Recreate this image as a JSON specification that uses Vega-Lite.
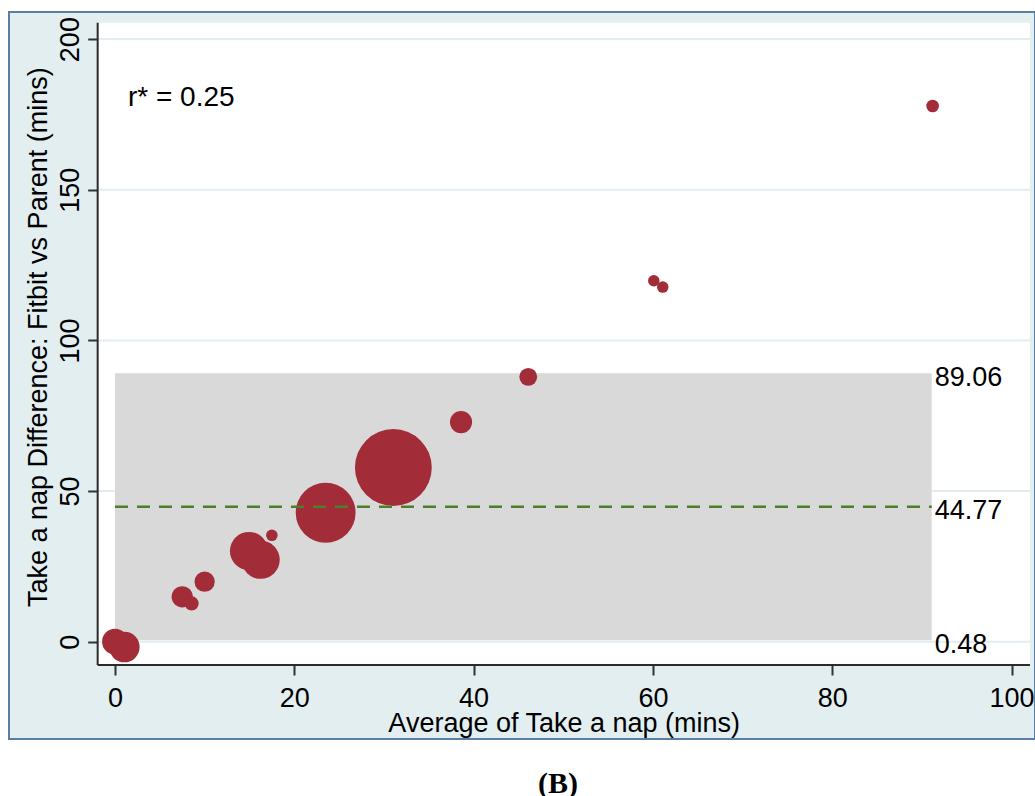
{
  "$schema": "https://vega.github.io/schema/vega-lite/v6.json",
  "width": 1026,
  "height": 727,
  "autosize": {"type": "none"},
  "padding": {"left": 9, "top": 12, "right": 0, "bottom": 57},
  "background": "#ffffff",
  "config": {
    "view": {"fill": "#e2eef0", "stroke": "#5b7fa4", "strokeWidth": 2},
    "axis": {
      "labelFont": "Liberation Sans", "titleFont": "Liberation Sans",
      "labelFontSize": 27, "titleFontSize": 27,
      "labelColor": "#000000", "titleColor": "#000000", "titleFontWeight": "normal",
      "domain": false, "grid": false, "tickColor": "#333333", "tickWidth": 2, "tickSize": 10,
      "labelFlush": false, "zindex": 1
    }
  },
  "title": {"text": "(B)", "orient": "bottom", "frame": "group", "anchor": "middle", "dx": 36, "offset": 54, "baseline": "alphabetic", "font": "Liberation Serif", "fontSize": 30, "fontWeight": "bold", "color": "#000000"},
  "datasets": {
    "points": [
      {"avg": 0, "diff": 0, "n": 5},
      {"avg": 1.05, "diff": -1.8, "n": 7},
      {"avg": 7.5, "diff": 14.9, "n": 3.4},
      {"avg": 8.55, "diff": 12.7, "n": 1.5},
      {"avg": 10.0, "diff": 19.9, "n": 3.1},
      {"avg": 14.95, "diff": 30.1, "n": 11},
      {"avg": 16.25, "diff": 27.2, "n": 11},
      {"avg": 17.5, "diff": 35.3, "n": 1},
      {"avg": 23.5, "diff": 42.8, "n": 27},
      {"avg": 31.05, "diff": 57.8, "n": 44.5},
      {"avg": 38.6, "diff": 72.9, "n": 3.7},
      {"avg": 46.1, "diff": 87.9, "n": 2.4},
      {"avg": 60.1, "diff": 119.8, "n": 1},
      {"avg": 61.1, "diff": 117.7, "n": 1},
      {"avg": 91.2, "diff": 177.8, "n": 1.2}
    ],
    "band": [{"lo": 0.48, "mean": 44.77, "hi": 89.06, "xmin": 0, "xmax": 91.1}],
    "limits": [{"v": 89.06, "xmax": 91}, {"v": 44.77, "xmax": 91}, {"v": 0.48, "xmax": 91}],
    "grid": [{"g": 0}, {"g": 50}, {"g": 100}, {"g": 150}, {"g": 200}],
    "note": [{"label": "r* = 0.25", "x": 1.45, "y": 177.8}],
    "frame": [{"x0": -1.93, "x1": 102.06, "y0": -7.74, "y1": 205.4}]
  },
  "layer": [
    {
      "data": {"name": "frame"},
      "mark": {"type": "rect", "fill": "#ffffff"},
      "encoding": {
        "x": {"field": "x0", "type": "quantitative", "scale": {"domain": [-11.82, 102.62], "nice": false, "zero": false},
          "axis": {"values": [0, 20, 40, 60, 80, 100], "offset": -74, "title": "Average of Take a nap (mins)", "titleX": 554.7, "titleY": 66, "titleBaseline": "alphabetic", "titleAlign": "center", "labelPadding": 10, "labelBaseline": "top", "labelAlign": "center"}},
        "x2": {"field": "x1"},
        "y": {"field": "y0", "type": "quantitative", "scale": {"domain": [-32.3, 209.0], "nice": false, "zero": false},
          "axis": {"values": [0, 50, 100, 150, 200], "offset": -88.7, "title": "Take a nap Difference: Fitbit vs Parent (mins)", "titleX": -51.1, "titleY": 324.7, "titleAngle": 270, "titleBaseline": "alphabetic", "titleAlign": "center", "labelAngle": 270, "labelAlign": "center", "labelBaseline": "alphabetic", "labelPadding": 9.4}},
        "y2": {"field": "y1"}
      }
    },
    {
      "data": {"name": "grid"},
      "mark": {"type": "rule", "color": "#e3edf1", "strokeWidth": 2},
      "encoding": {
        "y": {"field": "g", "type": "quantitative"},
        "x": {"datum": -1.93, "type": "quantitative"},
        "x2": {"datum": 102.06}
      }
    },
    {
      "data": {"name": "band"},
      "mark": {"type": "rect", "fill": "#d9d9d9"},
      "encoding": {
        "x": {"field": "xmin", "type": "quantitative"},
        "x2": {"field": "xmax"},
        "y": {"field": "lo", "type": "quantitative"},
        "y2": {"field": "hi"}
      }
    },
    {
      "data": {"name": "points"},
      "mark": {"type": "circle", "color": "#a22d39", "opacity": 1, "strokeWidth": 0},
      "encoding": {
        "x": {"field": "avg", "type": "quantitative"},
        "y": {"field": "diff", "type": "quantitative"},
        "size": {"field": "n", "type": "quantitative", "scale": {"type": "linear", "domain": [0, 44.5], "range": [0, 5904]}, "legend": null}
      }
    },
    {
      "data": {"name": "band"},
      "mark": {"type": "rule", "color": "#4d7f2a", "strokeWidth": 2.5, "strokeDash": [13, 9]},
      "encoding": {
        "x": {"field": "xmin", "type": "quantitative"},
        "x2": {"field": "xmax"},
        "y": {"field": "mean", "type": "quantitative"}
      }
    },
    {
      "data": {"name": "limits"},
      "mark": {"type": "text", "align": "left", "baseline": "middle", "dx": 4, "dy": 4.5, "font": "Liberation Sans", "fontSize": 27, "color": "#000000"},
      "encoding": {
        "x": {"field": "xmax", "type": "quantitative"},
        "y": {"field": "v", "type": "quantitative"},
        "text": {"field": "v", "type": "quantitative", "format": ".2f"}
      }
    },
    {
      "data": {"name": "note"},
      "mark": {"type": "text", "align": "left", "baseline": "alphabetic", "font": "Liberation Sans", "fontSize": 28, "color": "#000000"},
      "encoding": {
        "x": {"field": "x", "type": "quantitative"},
        "y": {"field": "y", "type": "quantitative"},
        "text": {"field": "label"}
      }
    },
    {
      "data": {"name": "frame"},
      "mark": {"type": "rule", "color": "#2b2b2b", "strokeWidth": 2},
      "encoding": {
        "x": {"field": "x0", "type": "quantitative"},
        "y": {"field": "y0", "type": "quantitative"},
        "y2": {"field": "y1"}
      }
    },
    {
      "data": {"name": "frame"},
      "mark": {"type": "rule", "color": "#2b2b2b", "strokeWidth": 2},
      "encoding": {
        "x": {"field": "x0", "type": "quantitative"},
        "x2": {"field": "x1"},
        "y": {"field": "y0", "type": "quantitative"}
      }
    }
  ]
}
